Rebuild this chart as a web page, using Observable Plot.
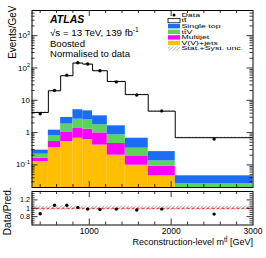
<!DOCTYPE html>
<html><head><meta charset="utf-8">
<script src="https://cdn.jsdelivr.net/npm/d3@7"></script>
<script src="https://cdn.jsdelivr.net/npm/@observablehq/plot@0.6"></script>
<style>
body{margin:0;background:#fff;}
#chart{position:relative;width:266px;height:258px;font-family:"Liberation Sans",Arial,sans-serif;}
#chart svg{position:absolute;left:0;overflow:visible;}
</style></head><body><div id="chart"></div>
<script>
// ---- data ----
const binEdges = [300, 500, 650, 800, 920, 1040, 1220, 1440, 1720, 2050, 3000];
const dataValues = [3.8, 20, 60, 145, 133, 82, 37, 14.5, 4.7, 0.63];
const ttbarValues = [3.91, 18.5, 54.6, 137, 127, 78.7, 36.4, 14.3, 4.34, 0.65];
const singleTopValues = [0.071, 0.40, 1.10, 2.5, 2.22, 1.56, 0.77, 0.34, 0.125, 0.020];
const ttVValues = [0.054, 0.26, 0.78, 1.26, 1.20, 0.76, 0.39, 0.14, 0.042, 0.011];
const multijetValues = [0.035, 0.19, 0.52, 0.67, 0.67, 0.57, 0.26, 0.092, 0.045, 0.005];
const vvjetsValues = [0.126, 0.34, 0.53, 0.67, 0.61, 0.41, 0.20, 0.098, 0.046, 0.010];
const ratioValues = [0.87, 1.07, 1.07, 1.02, 0.98, 0.97, 0.98, 0.96, 0.98, 0.86];
const relUncertainty = [0.05, 0.05, 0.05, 0.05, 0.05, 0.05, 0.05, 0.05, 0.05, 0.05];

const legendLabels = ["Data", "t~t", "Single top", "t~tV", "Multijet", "V(V)+jets", "Stat.+Syst. unc."];
const componentColors = ["#ffbe00", "#ff00ff", "#5ad45a", "#1a6ef5"]; // V(V)+jets, Multijet, ttV, Single top

const yTickValues = [0.1, 1, 10, 100, 1000];
const yTickLabels = ["10^{-1}", "1", "10", "10^{2}", "10^{3}"];
const xTickValues = [1000, 2000, 3000];
const xTickLabels = ["1000", "2000", "3000"];
const ratioTickValues = [0.8, 1, 1.2];
const ratioTickLabels = ["0.8", "1", "1.2"];

const xDomain = [300, 3000];
const yDomain = [0.02, 6000];
const ratioDomain = [0.6, 1.4];

// ---- derived tables ----
const nBins = dataValues.length;
const components = [vvjetsValues, multijetValues, ttVValues, singleTopValues];
const stackRows = [];
const totals = [];
for (let i = 0; i < nBins; i++) {
  let cum = 0;
  components.forEach((vals, k) => {
    const lo = cum; cum += vals[i];
    stackRows.push({x1: binEdges[i], x2: binEdges[i + 1], y1: k === 0 ? 1e-4 : lo, y2: cum, fill: componentColors[k]});
  });
  totals.push(cum + ttbarValues[i]);
}
const binRows = d3.range(nBins).map(i => ({
  x1: binEdges[i], x2: binEdges[i + 1], xc: (binEdges[i] + binEdges[i + 1]) / 2,
  total: totals[i], data: dataValues[i], ratio: ratioValues[i], u: relUncertainty[i]
}));
const stepPts = [];
binRows.forEach(d => { stepPts.push({x: d.x1, y: d.total}); stepPts.push({x: d.x2, y: d.total}); });

// tick positions
const yMinor = [];
for (let e = -2; e <= 3; e++) for (let m = 2; m <= 9; m++) { const v = m * Math.pow(10, e); if (v > yDomain[0] && v < yDomain[1]) yMinor.push(v); }
const xMinor = d3.range(400, 3000, 200).filter(v => v % 1000 !== 0);
const rMinor = d3.range(0.65, 1.4, 0.05).map(v => +v.toFixed(2)).filter(v => ![0.8, 1, 1.2].includes(v));

const W = 266, ML = 31.5, MR = 13.5;
const FW = W - ML - MR;
const font = "'Liberation Sans', Arial, Helvetica, sans-serif";

function edgeTicks(FH, xMaj, xMin, yMaj, yMin) {
  const tk = {stroke: "black", strokeWidth: 0.8};
  const out = [];
  const maj = 6, min = 3;
  out.push(Plot.tickX(xMaj, {x: d => d, insetTop: FH - maj, ...tk}));
  out.push(Plot.tickX(xMin, {x: d => d, insetTop: FH - min, ...tk}));
  out.push(Plot.tickX(xMaj, {x: d => d, insetBottom: FH - maj, ...tk}));
  out.push(Plot.tickX(xMin, {x: d => d, insetBottom: FH - min, ...tk}));
  out.push(Plot.tickY(yMaj, {y: d => d, insetRight: FW - maj, ...tk}));
  out.push(Plot.tickY(yMin, {y: d => d, insetRight: FW - min, ...tk}));
  out.push(Plot.tickY(yMaj, {y: d => d, insetLeft: FW - maj, ...tk}));
  out.push(Plot.tickY(yMin, {y: d => d, insetLeft: FW - min, ...tk}));
  return out;
}

// ---- main panel ----
const mainH = 189, mainMT = 10, mainMB = 2;
const main = Plot.plot({
  width: W, height: mainH, marginLeft: ML, marginRight: MR, marginTop: mainMT, marginBottom: mainMB,
  x: {domain: xDomain, axis: null},
  y: {type: "log", domain: yDomain, axis: null},
  color: {type: "identity"},
  style: {fontFamily: font, fontSize: "8.5px", background: "transparent", color: "black"},
  marks: [
    Plot.rect(stackRows, {x1: "x1", x2: "x2", y1: "y1", y2: "y2", fill: "fill", clip: true}),
    Plot.rect(binRows, {x1: "x1", x2: "x2", y1: d => d.total * (1 - d.u), y2: d => d.total * (1 + d.u), fill: "url(#hatchMain)", clip: true}),
    Plot.line(stepPts, {x: "x", y: "y", stroke: "black", strokeWidth: 1, clip: true}),
    Plot.dot(binRows, {x: "xc", y: "data", r: 1.7, fill: "black"}),
    ...edgeTicks(mainH - mainMT - mainMB, [1000, 2000], xMinor, yTickValues, yMinor),
    Plot.text(yTickValues, {y: d => d, text: (d, i) => yTickLabels[i], frameAnchor: "left", textAnchor: "end", dx: -2, fontSize: 8}),
    Plot.text(["Events/GeV"], {frameAnchor: "top-left", rotate: -90, textAnchor: "end", dx: -23, dy: -5, fontSize: 10}),
    Plot.frame({stroke: "black", strokeWidth: 1})
  ]
});

// ---- ratio panel ----
const ratioH = 69, ratioMT = 2, ratioMB = 33.5;
const ratio = Plot.plot({
  width: W, height: ratioH, marginLeft: ML, marginRight: MR, marginTop: ratioMT, marginBottom: ratioMB,
  x: {domain: xDomain, axis: null},
  y: {domain: ratioDomain, axis: null},
  style: {fontFamily: font, fontSize: "8.5px", background: "transparent", color: "black"},
  marks: [
    Plot.rect(binRows, {x1: "x1", x2: "x2", y1: d => 1 - d.u, y2: d => 1 + d.u, fill: "url(#hatchRatio)"}),
    Plot.ruleY([1], {stroke: "#e3241c", strokeWidth: 1, strokeDasharray: "3,2"}),
    Plot.dot(binRows, {x: "xc", y: "ratio", r: 1.7, fill: "black"}),
    ...edgeTicks(ratioH - ratioMT - ratioMB, [1000, 2000], xMinor, [0.8, 1, 1.2], rMinor),
    Plot.text(ratioTickValues, {y: d => d, text: (d, i) => ratioTickLabels[i], frameAnchor: "left", textAnchor: "end", dx: -2, fontSize: 7.2}),
    Plot.text(xTickValues, {x: d => d, text: (d, i) => xTickLabels[i], frameAnchor: "bottom", lineAnchor: "top", dy: 3, fontSize: 8.5}),
    Plot.text(["Reconstruction-level m^{t~t} [GeV]"], {frameAnchor: "bottom-right", textAnchor: "end", lineAnchor: "top", dy: 14, fontSize: 9}),
    Plot.text(["Data/Pred."], {frameAnchor: "left", rotate: -90, textAnchor: "middle", dx: -24, dy: 3, fontSize: 10}),
    Plot.frame({stroke: "black", strokeWidth: 1})
  ]
});

// ---- helpers ----
function addHatch(svg, id, color) {
  const defs = d3.select(svg).insert("defs", ":first-child");
  const p = defs.append("pattern").attr("id", id).attr("patternUnits", "userSpaceOnUse")
    .attr("width", 2.5).attr("height", 2.5).attr("patternTransform", "rotate(45)");
  p.append("line").attr("x1", 0).attr("y1", 0).attr("x2", 0).attr("y2", 2.5)
    .attr("stroke", color).attr("stroke-width", 0.7);
}
function setRich(el, str) {
  const base = parseFloat(el.getAttribute("font-size")) || parseFloat(getComputedStyle(el).fontSize) || 9;
  const segs = [];
  let sup = false, i = 0;
  const push = (ch, over) => {
    const last = segs[segs.length - 1];
    if (last && last.sup === sup && last.over === over) last.t += ch;
    else segs.push({t: ch, sup, over});
  };
  while (i < str.length) {
    const c = str[i];
    if (c === "^" && str[i + 1] === "{") { sup = true; i += 2; continue; }
    if (c === "}" && sup) { sup = false; i++; continue; }
    if (c === "~") { push(str[i + 1], true); i += 2; continue; }
    push(c, false); i++;
  }
  el.textContent = "";
  let inSup = false;
  const shift = base * 0.4;
  segs.forEach(s => {
    const ts = document.createElementNS("http://www.w3.org/2000/svg", "tspan");
    ts.textContent = s.t;
    if (s.sup && !inSup) ts.setAttribute("dy", -shift);
    if (!s.sup && inSup) ts.setAttribute("dy", shift);
    inSup = s.sup;
    if (s.sup) ts.setAttribute("font-size", base * 0.7);
    if (s.over) ts.setAttribute("text-decoration", "overline");
    el.appendChild(ts);
  });
}
function richifyAll(svg) {
  d3.select(svg).selectAll("text").each(function () {
    const t = this.textContent;
    if (t.includes("^{") || t.includes("~")) setRich(this, t);
  });
}

const chart = document.getElementById("chart");
main.style.top = "0px";
ratio.style.top = mainH + "px";
chart.appendChild(main);
chart.appendChild(ratio);
addHatch(main, "hatchMain", "#555");
addHatch(ratio, "hatchRatio", "#444");
richifyAll(main);
richifyAll(ratio);

// ---- ATLAS labels ----
const g = d3.select(main).append("g").attr("font-family", font).attr("fill", "black").attr("text-anchor", "start");
function label(y, size, sx) {
  return g.append("text").attr("transform", `translate(50,${y}) scale(${sx},1)`).attr("font-size", size);
}
label(23, 10.5, 1).attr("font-weight", "bold").attr("font-style", "italic").text("ATLAS");
setRich(label(35.5, 9, 1.08).node(), "\u221As = 13 TeV, 139 fb^{-1}");
label(46.5, 9, 1.06).text("Boosted");
label(57, 9, 1.06).text("Normalised to data");

// ---- legend ----
const leg = d3.select(main).append("g").attr("font-family", font).attr("text-anchor", "start");
const rowY = [15, 20.6, 26.2, 31.8, 37.4, 43.0, 48.6];
const bx = 168, bw = 12, bh = 4.4;
legendLabels.forEach((lab, i) => {
  const y = rowY[i];
  if (i === 0) leg.append("circle").attr("cx", bx + bw / 2).attr("cy", y).attr("r", 1.5).attr("fill", "black");
  else if (i === 1) leg.append("rect").attr("x", bx).attr("y", y - bh / 2).attr("width", bw).attr("height", bh).attr("fill", "white").attr("stroke", "black").attr("stroke-width", 0.8);
  else if (i === 6) leg.append("rect").attr("x", bx).attr("y", y - bh / 2).attr("width", bw).attr("height", bh).attr("fill", "url(#hatchMain)");
  else leg.append("rect").attr("x", bx).attr("y", y - bh / 2).attr("width", bw).attr("height", bh).attr("fill", componentColors[5 - i]);
  const t = leg.append("text").attr("transform", `translate(${bx + bw + 1.5},${y}) scale(1.22,0.69)`)
    .attr("dy", "0.35em").attr("font-size", 7.2).node();
  setRich(t, lab);
});
</script></body></html>
